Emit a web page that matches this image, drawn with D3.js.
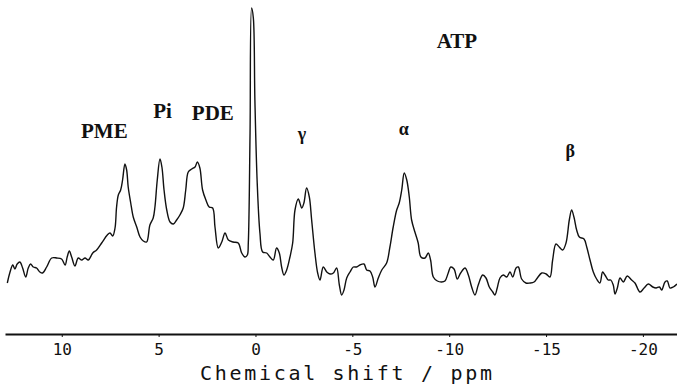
<!DOCTYPE html>
<html>
<head>
<meta charset="utf-8">
<script src="https://cdn.jsdelivr.net/npm/d3@7"></script>
<style>
  html, body { margin: 0; padding: 0; background: #fff; }
  svg { display: block; }
</style>
</head>
<body>
<svg id="chart" width="677" height="386"></svg>
<script>
const shiftPpm = [
  12.81,12.67,12.53,12.42,12.30,12.16,12.02,11.86,11.73,11.61,11.47,11.30,11.13,10.99,10.78,10.52,10.26,10.01,
  9.83,9.72,9.61,9.49,9.32,9.15,8.97,8.80,8.63,8.40,8.20,7.94,7.65,7.51,7.37,7.25,7.17,7.08,6.96,6.86,6.74,6.65,
  6.57,6.44,6.31,6.13,5.96,5.79,5.62,5.45,5.28,5.19,5.07,4.93,4.83,4.72,4.58,4.41,4.24,4.07,3.90,3.73,3.60,3.47,
  3.29,3.12,3.00,2.87,2.73,2.56,2.39,2.21,2.09,1.92,1.74,1.57,1.40,1.15,0.89,0.71,0.54,0.42,0.37,0.28,0.20,0.11,
  0.03,-0.09,-0.23,-0.37,-0.58,-0.75,-0.92,-1.09,-1.23,-1.35,-1.47,-1.61,-1.78,-1.92,-2.04,-2.21,-2.39,-2.50,
  -2.64,-2.78,-2.90,-3.07,-3.21,-3.33,-3.50,-3.68,-3.85,-4.02,-4.19,-4.33,-4.45,-4.57,-4.71,-4.88,-5.05,-5.22,
  -5.39,-5.60,-5.74,-5.91,-6.05,-6.17,-6.34,-6.52,-6.77,-6.94,-7.11,-7.29,-7.42,-7.55,-7.68,-7.81,-7.94,-8.06,
  -8.23,-8.40,-8.54,-8.75,-8.92,-9.04,-9.18,-9.39,-9.61,-9.78,-9.95,-10.08,-10.25,-10.42,-10.59,-10.82,-10.99,
  -11.16,-11.33,-11.50,-11.73,-11.90,-12.07,-12.25,-12.36,-12.48,-12.62,-12.79,-12.97,-13.14,-13.28,-13.45,
  -13.57,-13.74,-13.96,-14.17,-14.38,-14.55,-14.78,-15.00,-15.20,-15.34,-15.51,-15.68,-15.86,-16.03,-16.20,
  -16.32,-16.44,-16.58,-16.72,-16.96,-17.10,-17.27,-17.44,-17.61,-17.78,-17.92,-18.04,-18.21,-18.34,-18.47,
  -18.56,-18.68,-18.82,-18.99,-19.19,-19.42,-19.59,-19.85,-20.06,-20.28,-20.51,-20.68,-20.85,-20.97,-21.14,
  -21.26,-21.40,-21.57,-21.76
];
// Signal intensity (arbitrary units) at each point
const intensity = [
  17,28,35,31,36,38,32,23,32,36,33,32,28,27,33,42,42,41,
  35,43,49,43,34,42,40,42,40,47,50,57,65,67,64,72,93,105,110,120,136,130,
  113,97,83,73,63,59,58,75,82,93,120,141,133,110,90,78,76,80,85,92,110,128,
  131,133,138,132,110,100,93,92,73,52,58,67,60,58,57,47,43,45,57,167,292,282,
  200,117,67,48,47,43,40,52,47,33,25,30,43,57,90,101,92,97,
  112,103,80,47,27,20,33,28,26,27,32,15,5,10,22,28,33,33,
  35,36,30,29,23,13,22,30,37,53,73,90,97,110,127,120,103,80,
  68,57,43,42,47,40,23,19,18,19,27,33,31,21,27,32,25,
  13,5,15,25,22,13,8,5,12,22,25,23,28,23,32,
  33,21,17,17,18,22,27,26,23,40,56,53,50,57,80,
  90,83,70,63,61,53,40,28,21,17,28,25,20,20,15,
  6,12,22,18,24,20,17,8,12,16,13,12,13,10,18,
  19,12,13,16
];
const tickValues = [10, 5, 0, -5, -10, -15, -20];
const peakLabels = ["ATP", "PME", "Pi", "PDE", "γ", "α", "β"];
const peakLabelShift = [-10.4, 7.8, 4.8, 2.2, -2.4, -7.65, -16.25];
const peakLabelHeight = [252, 162, 182, 180, 160, 165, 143];

const svg = d3.select("#chart");
const x = d3.scaleLinear().domain([12.93, -21.76]).range([5, 677]);
const y = d3.scaleLinear().domain([0, 300]).range([300, 0]);

const n = Math.min(shiftPpm.length, intensity.length);
const pts = d3.range(n).map(i => [shiftPpm[i], intensity[i]]);

svg.append("path")
  .datum(pts)
  .attr("fill", "none")
  .attr("stroke", "#111")
  .attr("stroke-width", 1.4)
  .attr("stroke-linejoin", "round")
  .attr("d", d3.line().x(d => x(d[0])).y(d => y(d[1])).curve(d3.curveCatmullRom.alpha(0.5)));

// axis
const axis = d3.axisBottom(x)
  .tickValues(tickValues)
  .tickSize(3)
  .tickSizeOuter(0)
  .tickPadding(7)
  .tickFormat(d => d < 0 ? "-" + Math.abs(d) : String(d));

const gx = svg.append("g").attr("transform", "translate(0,334)").call(axis);
gx.select(".domain").attr("stroke", "#111").attr("stroke-width", 2);
gx.selectAll(".tick line").attr("stroke", "#111");
gx.selectAll(".tick text")
  .attr("font-family", "DejaVu Sans Mono, monospace")
  .attr("font-size", 16)
  .attr("fill", "#111");

svg.append("text")
  .attr("x", 346).attr("y", 380)
  .attr("text-anchor", "middle")
  .attr("font-family", "DejaVu Sans Mono, monospace")
  .attr("font-size", 20)
  .attr("fill", "#111")
  .attr("textLength", 292)
  .attr("lengthAdjust", "spacing")
  .text("Chemical shift / ppm");

// peak labels
svg.selectAll("text.peak")
  .data(peakLabels)
  .join("text")
  .attr("class", "peak")
  .attr("x", (d, i) => x(peakLabelShift[i]))
  .attr("y", (d, i) => y(peakLabelHeight[i]))
  .attr("text-anchor", "middle")
  .attr("font-family", "Liberation Serif, DejaVu Serif, serif")
  .attr("font-weight", "bold")
  .attr("font-size", (d) => d.length > 1 ? 21 : 18)
  .attr("fill", "#111")
  .text(d => d);
</script>
</body>
</html>
